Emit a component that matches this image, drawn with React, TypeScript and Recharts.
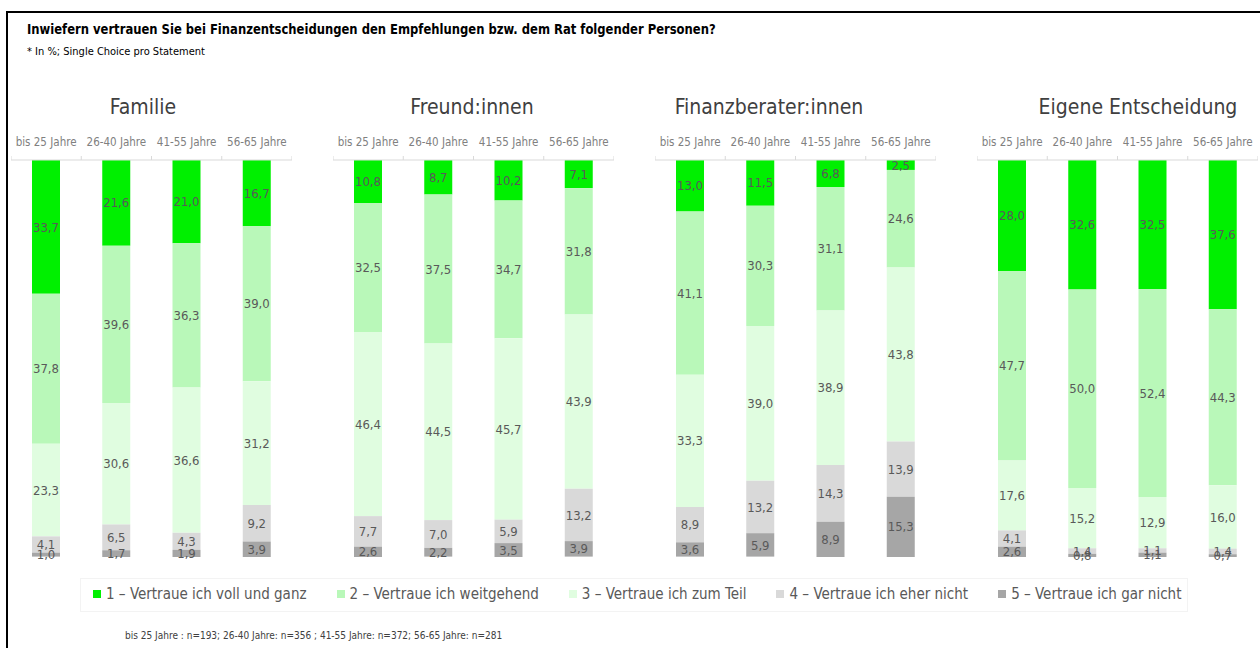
import { Bar, BarChart, LabelList, XAxis, YAxis } from "recharts"

const ageGroups = ["bis 25 Jahre", "26-40 Jahre", "41-55 Jahre", "56-65 Jahre"]
const panelTitles = ["Familie", "Freund:innen", "Finanzberater:innen", "Eigene Entscheidung"]
const seriesNames = [
  "1 – Vertraue ich voll und ganz",
  "2 – Vertraue ich weitgehend",
  "3 – Vertraue ich zum Teil",
  "4 – Vertraue ich eher nicht",
  "5 – Vertraue ich gar nicht",
]
const seriesColors = ["#00f000", "#b9f8b9", "#e0fde0", "#d9d9d9", "#a6a6a6"]

// rows = answer 1..5, columns = age groups
const familie = [
  [33.7, 21.6, 21.0, 16.7],
  [37.8, 39.6, 36.3, 39.0],
  [23.3, 30.6, 36.6, 31.2],
  [4.1, 6.5, 4.3, 9.2],
  [1.0, 1.7, 1.9, 3.9],
]
const freunde = [
  [10.8, 8.7, 10.2, 7.1],
  [32.5, 37.5, 34.7, 31.8],
  [46.4, 44.5, 45.7, 43.9],
  [7.7, 7.0, 5.9, 13.2],
  [2.6, 2.2, 3.5, 3.9],
]
const finanzberater = [
  [13.0, 11.5, 6.8, 2.5],
  [41.1, 30.3, 31.1, 24.6],
  [33.3, 39.0, 38.9, 43.8],
  [8.9, 13.2, 14.3, 13.9],
  [3.6, 5.9, 8.9, 15.3],
]
const eigene = [
  [28.0, 32.6, 32.5, 37.6],
  [47.7, 50.0, 52.4, 44.3],
  [17.6, 15.2, 12.9, 16.0],
  [4.1, 1.4, 1.1, 1.4],
  [2.6, 0.8, 1.1, 0.7],
]

const panels = [familie, freunde, finanzberater, eigene]
const panelLeft = [11, 333, 655, 977]
const titleCenter = [143, 472, 769, 1138]

const FONT = "'Liberation Sans Narrow', 'DejaVu Sans Condensed', sans-serif"
const PLOT_TOP = 40

const fmt = (v: any) => Number(v).toFixed(1).replace(".", ",")

function AgeTick(props: any) {
  const { x, payload, index } = props
  const half = payload && payload.offset ? payload.offset : 35
  return (
    <g>
      <line x1={x - half} x2={x - half} y1={PLOT_TOP} y2={PLOT_TOP - 4} stroke="#d9d9d9" />
      {index === ageGroups.length - 1 && (
        <line x1={x + half} x2={x + half} y1={PLOT_TOP} y2={PLOT_TOP - 4} stroke="#d9d9d9" />
      )}
      <text x={x} y={PLOT_TOP - 14} textAnchor="middle" fill="#808080" fontSize={11.5} fontFamily={FONT}>
        {payload.value}
      </text>
    </g>
  )
}

function Panel({ values, left, title, center }: { values: number[][]; left: number; title: string; center: number }) {
  const data = ageGroups.map((age, i) => {
    const row: any = { age }
    values.forEach((s, k) => {
      row["s" + k] = s[i]
    })
    return row
  })
  return (
    <>
      <div
        style={{
          position: "absolute",
          left: center - 150,
          width: 300,
          top: 95,
          textAlign: "center",
          fontFamily: FONT,
          fontSize: 21,
          color: "#404040",
        }}
      >
        {title}
      </div>
      <div style={{ position: "absolute", left, top: 120 }}>
        <BarChart width={281} height={449} data={data} margin={{ top: 0, right: 0, bottom: 12, left: 0 }}>
          <XAxis
            dataKey="age"
            orientation="top"
            height={PLOT_TOP}
            axisLine={{ stroke: "#d9d9d9" }}
            tickLine={false}
            tick={<AgeTick />}
            interval={0}
          />
          <YAxis type="number" domain={[0, 100]} reversed hide allowDataOverflow />
          {seriesNames.map((name, k) => (
            <Bar key={name} dataKey={"s" + k} name={name} stackId="a" fill={seriesColors[k]} barSize={28} isAnimationActive={false}>
              <LabelList dataKey={"s" + k} position="center" formatter={fmt} fill="#595959" fontSize={13} fontFamily={FONT} />
            </Bar>
          ))}
        </BarChart>
      </div>
    </>
  )
}

export default function App() {
  return (
    <div
      style={{
        position: "absolute",
        left: 0,
        top: 0,
        width: 1260,
        height: 648,
        background: "#fff",
        overflow: "hidden",
        fontFamily: FONT,
      }}
    >
      <div
        style={{
          position: "absolute",
          left: 6,
          top: 11,
          width: 1252,
          height: 660,
          borderLeft: "2px solid #000",
          borderTop: "2px solid #000",
          borderRight: "1px solid #8c8c8c",
        }}
      />
      <div
        style={{
          position: "absolute",
          left: 27,
          top: 21,
          fontSize: 14,
          fontWeight: "bold",
          color: "#000",
          whiteSpace: "nowrap",
          transform: "scaleX(0.92)",
          transformOrigin: "left top",
        }}
      >
        Inwiefern vertrauen Sie bei Finanzentscheidungen den Empfehlungen bzw. dem Rat folgender Personen?
      </div>
      <div style={{ position: "absolute", left: 27, top: 45, fontSize: 11, color: "#000" }}>
        * In %; Single Choice pro Statement
      </div>
      {panels.map((p, i) => (
        <Panel key={panelTitles[i]} values={p} left={panelLeft[i]} title={panelTitles[i]} center={titleCenter[i]} />
      ))}
      <div
        style={{
          position: "absolute",
          left: 80,
          top: 578,
          width: 1108,
          height: 34,
          border: "1px solid #f3f3f3",
          boxSizing: "border-box",
        }}
      />
      <div
        style={{
          position: "absolute",
          left: 93,
          top: 585,
          display: "flex",
          gap: 30,
          fontSize: 15,
          color: "#595959",
          whiteSpace: "nowrap",
        }}
      >
        {seriesNames.map((n, k) => (
          <div key={n} style={{ display: "flex", alignItems: "center" }}>
            <span style={{ display: "inline-block", width: 8, height: 8, background: seriesColors[k], marginRight: 5 }} />
            {n}
          </div>
        ))}
      </div>
      <div style={{ position: "absolute", left: 125, top: 630, fontSize: 10, color: "#404040" }}>
        bis 25 Jahre : n=193; 26-40 Jahre: n=356 ; 41-55 Jahre: n=372; 56-65 Jahre: n=281
      </div>
    </div>
  )
}
